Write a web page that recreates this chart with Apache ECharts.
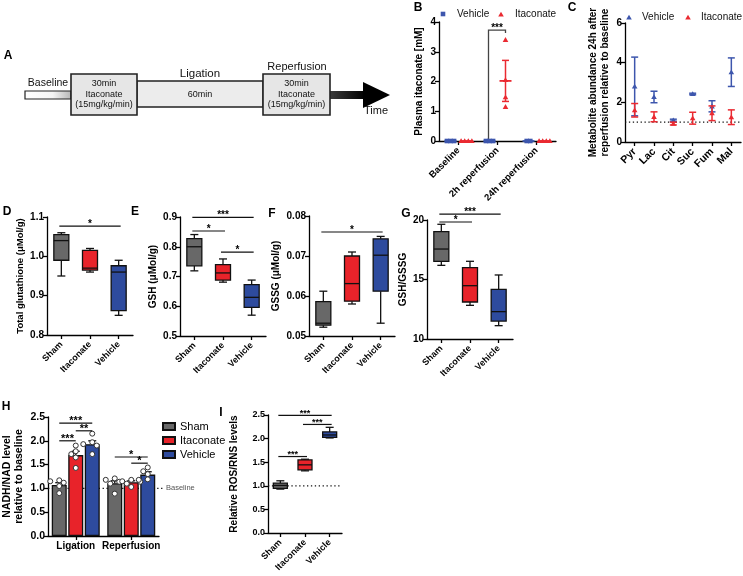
<!DOCTYPE html>
<html><head><meta charset="utf-8">
<script src="https://cdn.jsdelivr.net/npm/echarts@6/dist/echarts.min.js"></script>
<style>html,body{margin:0;padding:0;background:#fff}#c{width:743px;height:576px}</style>
</head><body><div id="c"></div>
<script>
// ================= DATA =================
const groupNames = ['Sham', 'Itaconate', 'Vehicle'];

// Panel B – plasma itaconate (mM)
const bCategories = ['Baseline', '2h reperfusion', '24h reperfusion'];
const bVehiclePoints = [[0, 0, 0], [0, 0, 0], [0, 0]];
const bItaconatePoints = [[0, 0, 0, 0], [3.4, 2.05, 1.47, 1.15], [0, 0, 0, 0]];
const bVehicleMean = [0, 0, 0];
const bVehicleErr = [0, 0, 0];
const bItaconateMean = [0, 2.02, 0];
const bItaconateErr = [0, 0.69, 0];
const bTicks = [0, 1, 2, 3, 4];
const bBracket = [1, 3.73, '***']; // category, bracket top, label

// Panel C – metabolite abundance relative to baseline
const cCategories = ['Pyr', 'Lac', 'Cit', 'Suc', 'Fum', 'Mal'];
const cVehicleMean = [2.8, 2.27, 1.1, 2.42, 1.8, 3.52];
const cVehicleErr = [1.48, 0.29, 0.05, 0.04, 0.28, 0.72];
const cItaconateMean = [1.6, 1.27, 0.93, 1.2, 1.45, 1.25];
const cItaconateErr = [0.34, 0.25, 0.07, 0.3, 0.37, 0.37];

// Box plots: [min, Q1, median, Q3, max] for Sham, Itaconate, Vehicle
const dBoxes = [[0.95, 0.99, 1.04, 1.055, 1.06], [0.96, 0.965, 0.97, 1.015, 1.02], [0.85, 0.862, 0.96, 0.976, 0.99]];
const eBoxes = [[0.719, 0.736, 0.80, 0.827, 0.841], [0.681, 0.688, 0.712, 0.74, 0.759], [0.57, 0.596, 0.63, 0.673, 0.688]];
const fBoxes = [[0.0522, 0.0527, 0.0532, 0.0586, 0.0612], [0.058, 0.0587, 0.0631, 0.070, 0.071], [0.0532, 0.0612, 0.0702, 0.0743, 0.0749]];
const gBoxes = [[16.19, 16.53, 17.56, 19.02, 19.64], [12.83, 13.11, 14.48, 16.0, 16.53], [11.12, 11.51, 12.3, 14.17, 15.38]];
const iBoxes = [[0.93, 0.944, 1.007, 1.056, 1.106], [1.317, 1.338, 1.444, 1.549, 1.563], [2.014, 2.028, 2.077, 2.141, 2.239]];

// significance: [fromGroup, toGroup, y, label]
const dSig = [[0, 2, 1.077, '*']];
const eSig = [[0, 2, 0.899, '***'], [0, 1, 0.853, '*'], [1, 2, 0.782, '*']];
const fSig = [[0, 2, 0.076, '*']];
const gSig = [[0, 2, 20.5, '***'], [0, 1, 19.83, '*']];
const iSig = [[0, 2, 2.49, '***'], [1, 2, 2.3, '***'], [0, 1, 1.62, '***']];

// Panel H – NADH/NAD relative to baseline
const hCategories = ['Ligation', 'Reperfusion'];
const hMeans = [[1.07, 1.11], [1.70, 1.13], [1.93, 1.29]]; // [group][category]
const hErrs = [[0.05, 0.05], [0.08, 0.03], [0.07, 0.06]];
const hPoints = [
  [[1.17, 1.15, 1.12, 1.05, 0.90], [1.21, 1.18, 1.14, 1.10, 0.89]],
  [[1.90, 1.78, 1.72, 1.65, 1.43], [1.18, 1.15, 1.14, 1.10, 1.03]],
  [[2.15, 1.97, 1.93, 1.90, 1.72], [1.44, 1.36, 1.30, 1.19, 1.18]]
];
// [category, fromGroup, toGroup, y, label]
const hSig = [[0, 0, 2, 2.37, '***'], [0, 1, 2, 2.21, '**'], [0, 0, 1, 2.0, '***'], [1, 0, 2, 1.66, '*'], [1, 1, 2, 1.53, '*']];

// ================= STYLE =================
const FONT = '"Liberation Sans", Arial, sans-serif';
const C_SHAM = '#686868', C_ITA = '#e8232a', C_VEH = '#2e4b9e';
const C_VEH_PT = '#3d56ad', C_ITA_PT = '#ea2a31';
const boxColors = [C_SHAM, C_ITA, C_VEH];

function ln(x1, y1, x2, y2, c, w) { return { type: 'line', shape: { x1, y1, x2, y2 }, style: { stroke: c || '#111', lineWidth: w || 1.3 } }; }
function tri(x, y, c, s) { s = s || 3; return { type: 'polygon', shape: { points: [[x, y - s], [x - s, y + s * 0.75], [x + s, y + s * 0.75]] }, style: { fill: c } }; }
function sq(x, y, c, s) { s = s || 2.3; return { type: 'rect', shape: { x: x - s, y: y - s, width: 2 * s, height: 2 * s }, style: { fill: c } }; }
function txt(x, y, t, font, fill, align) { return { type: 'text', x, y, style: { text: t, font, fill: fill || '#000', align: align || 'center', verticalAlign: 'middle' } }; }

function spreadSame(vals, tol, step) {
  return vals.map((v, i) => {
    const grp = []; vals.forEach((w, j) => { if (Math.abs(w - v) < tol) grp.push(j); });
    const k = grp.indexOf(i); return (k - (grp.length - 1) / 2) * step;
  });
}
function swarm(ys, r, step) {
  const placed = [], dx = [];
  ys.forEach(y => {
    const cands = [0]; for (let k = 1; k < 6; k++) cands.push(-k * step, k * step);
    let best = 0;
    for (const c of cands) { if (placed.every(p => Math.hypot(p[0] - c, p[1] - y) >= 2 * r - 0.5)) { best = c; break; } }
    placed.push([best, y]); dx.push(best);
  });
  return dx;
}

function xCat(gi, cats, rotate, fs) {
  return {
    type: 'category', gridIndex: gi, data: cats, boundaryGap: true,
    axisLine: { show: true, lineStyle: { color: '#000', width: 1.3 } },
    axisTick: { show: true, alignWithLabel: true, length: 4, lineStyle: { color: '#000', width: 1.3 } },
    axisLabel: { rotate, fontSize: fs, fontWeight: 'bold', fontFamily: FONT, color: '#000', margin: rotate ? 8 : 5, interval: 0 },
    splitLine: { show: false }
  };
}
function yVal(gi, min, max, interval, dec, fs, name, gap, nfs) {
  return {
    type: 'value', gridIndex: gi, min, max, interval,
    axisLine: { show: true, lineStyle: { color: '#000', width: 1.3 } },
    axisTick: { show: true, length: 4, lineStyle: { color: '#000', width: 1.3 } },
    axisLabel: { fontSize: fs, fontWeight: 'bold', fontFamily: FONT, color: '#000', margin: 3, formatter: v => v.toFixed(dec) },
    splitLine: { show: false },
    name, nameLocation: 'middle', nameRotate: 90, nameGap: gap,
    nameTextStyle: { fontSize: nfs, fontWeight: 'bold', fontFamily: FONT, color: '#000', lineHeight: Math.round(nfs * 1.15) }
  };
}

function boxSeries(gi, boxes, bw) {
  return {
    type: 'custom', xAxisIndex: gi, yAxisIndex: gi, clip: false, z: 3, silent: true,
    data: boxes.map((d, i) => [i].concat(d)), encode: { x: 0, y: [1, 2, 3, 4, 5] },
    renderItem: (params, api) => {
      const i = api.value(0);
      const p = [1, 2, 3, 4, 5].map(k => api.coord([i, api.value(k)]));
      const cx = p[0][0], cw = 8;
      return {
        type: 'group', children: [
          ln(cx, p[0][1], cx, p[1][1]), ln(cx, p[3][1], cx, p[4][1]),
          ln(cx - cw / 2, p[0][1], cx + cw / 2, p[0][1]), ln(cx - cw / 2, p[4][1], cx + cw / 2, p[4][1]),
          { type: 'rect', shape: { x: cx - bw / 2, y: p[3][1], width: bw, height: p[1][1] - p[3][1] }, style: { fill: boxColors[i], stroke: '#111', lineWidth: 1.3 } },
          ln(cx - bw / 2, p[2][1], cx + bw / 2, p[2][1])
        ]
      };
    }
  };
}
function sigSeries(gi, sigs, fs) {
  return {
    type: 'custom', xAxisIndex: gi, yAxisIndex: gi, clip: false, z: 4, silent: true,
    data: sigs.map(s => [s[0], s[2]]), encode: { x: 0, y: 1 },
    renderItem: (params, api) => {
      const s = sigs[params.dataIndex];
      const a = api.coord([s[0], s[2]]), b = api.coord([s[1], s[2]]);
      return {
        type: 'group', children: [
          ln(a[0] - 2, a[1], b[0] + 2, b[1], '#111', 1.2),
          txt((a[0] + b[0]) / 2, a[1] - 2, s[3], 'bold ' + (fs || 10) + 'px ' + FONT)
        ]
      };
    }
  };
}
function dotLine(gi, yv, extra, label) {
  return {
    type: 'custom', xAxisIndex: gi, yAxisIndex: gi, clip: false, z: 1, silent: true,
    data: [[0, yv]], encode: { x: 0, y: 1 },
    renderItem: (params, api) => {
      const cs = params.coordSys; const y = api.coord([0, api.value(1)])[1];
      const x2 = cs.x + cs.width + (extra || 0);
      const ch = [{ type: 'line', shape: { x1: cs.x, y1: y, x2, y2: y }, style: { stroke: '#111', lineWidth: 1.3, lineDash: [1.3, 2.6] } }];
      if (label) ch.push(txt(x2 + 3, y, label, '7.5px ' + FONT, '#555', 'left'));
      return { type: 'group', children: ch };
    }
  };
}

// Panel B series
function bSeries(points, means, errs, color, shape, off) {
  return {
    type: 'custom', xAxisIndex: 0, yAxisIndex: 0, clip: false, z: 5, silent: true,
    data: means.map((m, c) => [c, m, errs[c]]), encode: { x: 0, y: 1 },
    renderItem: (params, api) => {
      const c = api.value(0), m = api.value(1), e = api.value(2);
      const pm = api.coord([c, m]); const cx = pm[0] + off;
      const ch = [];
      const pts = points[c]; const dx = spreadSame(pts, 0.12, 3.6);
      pts.forEach((v, i) => { const y = api.coord([c, v])[1]; ch.push(shape === 'sq' ? sq(cx + dx[i], y, color) : tri(cx + dx[i], y, color, 2.8)); });
      ch.push(ln(cx - 6, pm[1], cx + 6, pm[1], color, 1.8));
      if (e > 0) {
        const pt = api.coord([c, m + e])[1], pb = api.coord([c, m - e])[1];
        ch.push(ln(cx, pt, cx, pb, color, 1.5), ln(cx - 3.5, pt, cx + 3.5, pt, color, 1.5), ln(cx - 3.5, pb, cx + 3.5, pb, color, 1.5));
      }
      return { type: 'group', children: ch };
    }
  };
}
// Panel C series
function cSeries(means, errs, color) {
  return {
    type: 'custom', xAxisIndex: 1, yAxisIndex: 1, clip: false, z: 5, silent: true,
    data: means.map((m, i) => [i, m, errs[i]]), encode: { x: 0, y: 1 },
    renderItem: (params, api) => {
      const c = api.value(0), m = api.value(1), e = api.value(2);
      const p = api.coord([c, m]), pt = api.coord([c, m + e])[1], pb = api.coord([c, m - e])[1];
      const x = p[0];
      return {
        type: 'group', children: [
          ln(x, pt, x, pb, color, 1.5), ln(x - 3.5, pt, x + 3.5, pt, color, 1.5), ln(x - 3.5, pb, x + 3.5, pb, color, 1.5),
          tri(x, p[1], color, 2.8)
        ]
      };
    }
  };
}
// Panel H
const hOff = [-16.5, 0, 16.5];
const hBarSeries = groupNames.map((n, g) => ({
  type: 'bar', name: n, xAxisIndex: 6, yAxisIndex: 6, data: hMeans[g], barWidth: 15, barGap: '10%', z: 2,
  itemStyle: { color: boxColors[g], borderColor: '#111', borderWidth: 1.3 }
}));
const hPointData = [];
hMeans.forEach((ms, g) => ms.forEach((m, c) => hPointData.push([c, m, g])));
const hPointSeries = {
  type: 'custom', xAxisIndex: 6, yAxisIndex: 6, clip: false, z: 6, silent: true,
  data: hPointData, encode: { x: 0, y: 1 },
  renderItem: (params, api) => {
    const c = api.value(0), m = api.value(1), g = api.value(2);
    const pm = api.coord([c, m]); const cx = pm[0] + hOff[g];
    const e = hErrs[g][c]; const pt = api.coord([c, m + e])[1];
    const ch = [ln(cx, pm[1], cx, pt, '#111', 1.3), ln(cx - 4, pt, cx + 4, pt, '#111', 1.3)];
    const ys = hPoints[g][c].map(v => api.coord([c, v])[1]);
    const dx = swarm(ys, 2.7, 4.5);
    ys.forEach((y, i) => ch.push({ type: 'circle', shape: { cx: cx + dx[i], cy: y, r: 2.5 }, style: { fill: '#fff', stroke: '#333', lineWidth: 1 } }));
    return { type: 'group', children: ch };
  }
};
const hSigSeries = {
  type: 'custom', xAxisIndex: 6, yAxisIndex: 6, clip: false, z: 6, silent: true,
  data: hSig.map(s => [s[0], s[3]]), encode: { x: 0, y: 1 },
  renderItem: (params, api) => {
    const s = hSig[params.dataIndex];
    const p = api.coord([s[0], s[3]]);
    const x1 = p[0] + hOff[s[1]], x2 = p[0] + hOff[s[2]];
    return { type: 'group', children: [ln(x1, p[1], x2, p[1], '#111', 1.2), txt((x1 + x2) / 2, p[1] - 2, s[4], 'bold 11px ' + FONT)] };
  }
};
// B bracket
const bBracketSeries = {
  type: 'custom', xAxisIndex: 0, yAxisIndex: 0, clip: false, z: 4, silent: true,
  data: [[bBracket[0], bBracket[1]]], encode: { x: 0, y: 1 },
  renderItem: (params, api) => {
    const c = api.value(0); const p0 = api.coord([c, 0]); const pt = api.coord([c, api.value(1)]);
    const xv = p0[0] - 9, xi = p0[0] + 8;
    return {
      type: 'group', children: [
        { type: 'polyline', shape: { points: [[xv, p0[1]], [xv, pt[1]], [xi, pt[1]], [xi, pt[1] + 3]] }, style: { stroke: '#444', lineWidth: 1.3, fill: null } },
        txt((xv + xi) / 2, pt[1] - 2, bBracket[2], 'bold 10px ' + FONT)
      ]
    };
  }
};

// ================= GRAPHICS (diagram A, legends, letters) =================
const F = FONT;
const graphics = [
  // Panel A timeline diagram
  { type: 'rect', shape: { x: 25, y: 91, width: 46, height: 8 }, style: { fill: { type: 'linear', x: 0, y: 0, x2: 1, y2: 0, colorStops: [{ offset: 0, color: '#ffffff' }, { offset: 0.6, color: '#f4f4f4' }, { offset: 1, color: '#b5b5b5' }] }, stroke: '#222', lineWidth: 1.2 } },
  { type: 'rect', shape: { x: 137, y: 81, width: 126, height: 26 }, style: { fill: '#ececec', stroke: '#222', lineWidth: 1.3 } },
  { type: 'rect', shape: { x: 330, y: 91, width: 35, height: 8 }, style: { fill: { type: 'linear', x: 0, y: 0, x2: 1, y2: 0, colorStops: [{ offset: 0, color: '#3a3a3a' }, { offset: 1, color: '#000' }] } } },
  { type: 'polygon', shape: { points: [[363, 82], [390, 95], [363, 108]] }, style: { fill: '#000' } },
  { type: 'rect', shape: { x: 71, y: 74, width: 66, height: 41 }, style: { fill: '#e6e6e6', stroke: '#222', lineWidth: 1.6 } },
  { type: 'rect', shape: { x: 263, y: 74, width: 67, height: 41 }, style: { fill: '#e6e6e6', stroke: '#222', lineWidth: 1.6 } },
  txt(48, 83, 'Baseline', '10.5px ' + F, '#111'),
  txt(200, 74, 'Ligation', '11.5px ' + F, '#111'),
  txt(297, 67, 'Reperfusion', '11px ' + F, '#111'),
  txt(104, 84, '30min', '9px ' + F, '#111'),
  txt(104, 94.5, 'Itaconate', '9px ' + F, '#111'),
  txt(104, 105, '(15mg/kg/min)', '9px ' + F, '#111'),
  txt(200, 95, '60min', '9px ' + F, '#111'),
  txt(296.5, 84, '30min', '9px ' + F, '#111'),
  txt(296.5, 94.5, 'Itaconate', '9px ' + F, '#111'),
  txt(296.5, 105, '(15mg/kg/min)', '9px ' + F, '#111'),
  txt(376, 111, 'Time', '11px ' + F, '#111'),
  // B legend
  sq(443, 14, C_VEH_PT, 2.3), txt(457, 14, 'Vehicle', '10px ' + F, '#111', 'left'),
  tri(501, 14.5, C_ITA_PT, 2.8), txt(515, 14, 'Itaconate', '10px ' + F, '#111', 'left'),
  // C legend
  tri(629, 17.5, C_VEH_PT, 2.8), txt(642, 17, 'Vehicle', '10px ' + F, '#111', 'left'),
  tri(688, 17.5, C_ITA_PT, 2.8), txt(701, 17, 'Itaconate', '10px ' + F, '#111', 'left'),
  // panel letters
  txt(8, 56, 'A', 'bold 12px ' + F, '#000'),
  txt(418, 8, 'B', 'bold 12px ' + F, '#000'),
  txt(572, 8, 'C', 'bold 12px ' + F, '#000'),
  txt(7, 212, 'D', 'bold 12px ' + F, '#000'),
  txt(135, 212, 'E', 'bold 12px ' + F, '#000'),
  txt(272, 214, 'F', 'bold 12px ' + F, '#000'),
  txt(406, 214, 'G', 'bold 12px ' + F, '#000'),
  txt(6, 407, 'H', 'bold 12px ' + F, '#000'),
  txt(221, 413, 'I', 'bold 12px ' + F, '#000')
];

// ================= OPTION =================
const option = {
  animation: false,
  backgroundColor: '#fff',
  textStyle: { fontFamily: FONT },
  grid: [
    { left: 439, top: 22, width: 117, height: 119 },  // B
    { left: 625, top: 23, width: 116, height: 119 },  // C
    { left: 47, top: 217, width: 86, height: 118 },   // D
    { left: 180, top: 217, width: 86, height: 119 },  // E
    { left: 309, top: 216, width: 86, height: 120 },  // F
    { left: 427, top: 220, width: 86, height: 119 },  // G
    { left: 47, top: 417, width: 112, height: 119 },  // H
    { left: 268, top: 415, width: 74, height: 118 }   // I
  ],
  xAxis: [
    xCat(0, bCategories, 45, 9.5),
    xCat(1, cCategories, 45, 10.5),
    xCat(2, groupNames, 45, 9),
    xCat(3, groupNames, 45, 9),
    xCat(4, groupNames, 45, 9),
    xCat(5, groupNames, 45, 9),
    xCat(6, hCategories, 0, 10),
    xCat(7, groupNames, 45, 9)
  ],
  yAxis: [
    yVal(0, bTicks[0], bTicks[bTicks.length - 1], 1, 0, 10, 'Plasma itaconate [mM]', 14, 10),
    yVal(1, 0, 6, 2, 0, 10, 'Metabolite abundance 24h after\nreperfusion relative to baseline', 14, 10),
    yVal(2, 0.8, 1.1, 0.1, 1, 10, 'Total glutathione (μMol/g)', 16, 9.5),
    yVal(3, 0.5, 0.9, 0.1, 1, 10, 'GSH (μMol/g)', 19, 10),
    yVal(4, 0.05, 0.08, 0.01, 2, 10, 'GSSG (μMol/g)', 23, 10),
    yVal(5, 10, 20, 5, 0, 10, 'GSH/GSSG', 16, 10),
    yVal(6, 0, 2.5, 0.5, 1, 10.5, 'NADH/NAD level\nrelative to baseline', 23, 10.5),
    yVal(7, 0, 2.5, 0.5, 1, 9, 'Relative ROS/RNS levels', 28, 10)
  ],
  legend: [{
    data: groupNames, orient: 'vertical', left: 157, top: 416, itemWidth: 12, itemHeight: 7, itemGap: 3,
    icon: 'rect', selectedMode: false,
    textStyle: { fontSize: 11, fontFamily: FONT, color: '#000' }
  }],
  series: [
    bSeries(bVehiclePoints, bVehicleMean, bVehicleErr, C_VEH_PT, 'sq', -8),
    bSeries(bItaconatePoints, bItaconateMean, bItaconateErr, C_ITA_PT, 'tri', 8),
    bBracketSeries,
    dotLine(1, 1, 0),
    cSeries(cVehicleMean, cVehicleErr, C_VEH_PT),
    cSeries(cItaconateMean, cItaconateErr, C_ITA_PT),
    boxSeries(2, dBoxes, 15), sigSeries(2, dSig),
    boxSeries(3, eBoxes, 15), sigSeries(3, eSig),
    boxSeries(4, fBoxes, 15), sigSeries(4, fSig),
    boxSeries(5, gBoxes, 15), sigSeries(5, gSig),
    dotLine(6, 1, 4, 'Baseline'),
    ...hBarSeries, hPointSeries, hSigSeries,
    dotLine(7, 1, 0),
    boxSeries(7, iBoxes, 14), sigSeries(7, iSig, 9)
  ],
  graphic: graphics
};
const chart = echarts.init(document.getElementById('c'), null, { renderer: 'canvas' });
chart.setOption(option);
</script>
</body></html>
